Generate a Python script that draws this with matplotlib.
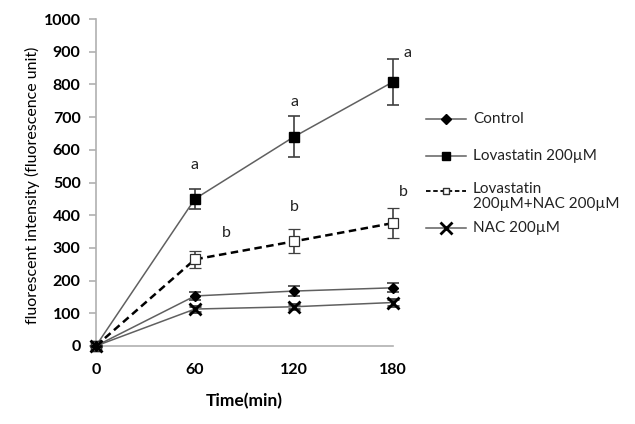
import matplotlib
matplotlib.use("Agg")
import matplotlib.pyplot as plt
from matplotlib.lines import Line2D

plt.rcParams["font.family"] = ["Lato", "DejaVu Sans"]

# data
time = [0, 60, 120, 180]

control = [0, 153, 168, 178]
control_err = [0, 12, 15, 14]

lova = [0, 450, 640, 808]
lova_err = [0, 30, 62, 70]

lova_nac = [0, 265, 320, 376]
lova_nac_err = [0, 26, 37, 45]

nac = [0, 113, 120, 133]
nac_err = [0, 10, 8, 10]

labels = ["Control", "Lovastatin 200\u00b5M",
          "Lovastatin\n200\u00b5M+NAC 200\u00b5M", "NAC 200\u00b5M"]

# significance letters
letters = ["a", "a", "a", "b", "b", "b"]
letter_x = [60, 120, 189, 79, 120, 186]
letter_y = [553, 746, 896, 346, 425, 471]

fig = plt.figure(figsize=(6.35, 4.24), dpi=100)
ax = fig.add_axes([0.151, 0.184, 0.468, 0.771])

gray = "#606060"

ax.errorbar(time, lova, yerr=lova_err, color=gray, lw=1.1, marker="s", ms=7,
            mfc="black", mec="black", ecolor="#404040", elinewidth=1.2,
            capsize=4, capthick=1.2, clip_on=False, zorder=3)
ax.errorbar(time, lova_nac, yerr=lova_nac_err, color="black", lw=1.8, ls=(0, (3, 1.8)),
            marker="s", ms=6.5, mfc="white", mec="#303030", mew=0.9,
            ecolor="#404040", elinewidth=1.2, capsize=4, capthick=1.2,
            clip_on=False, zorder=3)
ax.errorbar(time, control, yerr=control_err, color=gray, lw=1.1, marker="D", ms=5,
            mfc="black", mec="black", ecolor="#404040", elinewidth=1.2,
            capsize=4, capthick=1.2, clip_on=False, zorder=3)
ax.errorbar(time, nac, yerr=nac_err, color=gray, lw=1.1, marker="x", ms=8, mew=2,
            mfc="black", mec="black", ecolor="#404040", elinewidth=1.2,
            capsize=4, capthick=1.2, clip_on=False, zorder=3)

for t, x, y in zip(letters, letter_x, letter_y):
    ax.text(x, y, t, ha="center", va="center", fontsize=11.5, color="#222222")

ax.set_xlim(0, 180)
ax.set_ylim(0, 1000)
ax.set_xticks(time)
ax.set_yticks(range(0, 1001, 100))
for s in ["top", "right"]:
    ax.spines[s].set_visible(False)
for s in ["left", "bottom"]:
    ax.spines[s].set_color("#b0b0b0")
    ax.spines[s].set_linewidth(1.2)
ax.tick_params(axis="y", length=5, color="#b0b0b0", width=1.2, pad=6)
ax.tick_params(axis="x", length=0, pad=12)
for lab in ax.get_xticklabels() + ax.get_yticklabels():
    lab.set_fontweight("bold")
    lab.set_fontsize(11.5)

ax.set_xlabel("Time(min)", fontweight="bold", fontsize=12.5)
ax.xaxis.set_label_coords(0.5, -0.145)
ax.set_ylabel("fluorescent intensity (fluorescence unit)", fontsize=11.5,
              va="center")
ax.yaxis.set_label_coords(-0.212, 0.49)

# legend drawn by hand so the handles sit on the first text line
leg_y = [119, 156, 191, 228]
styles = [
    dict(color=gray, lw=1.1, marker="D", ms=5, mfc="black", mec="black"),
    dict(color=gray, lw=1.1, marker="s", ms=6, mfc="black", mec="black"),
    dict(color="black", lw=1.3, ls=(0, (2.5, 1.5)), marker="s", ms=5, mfc="white", mec="#303030"),
    dict(color=gray, lw=1.1, marker="x", ms=8, mew=2, mfc="black", mec="black"),
]
for y, lab, st in zip(leg_y, labels, styles):
    fy = 1 - y / 424
    fig.add_artist(Line2D([426 / 635, 446 / 635, 466 / 635], [fy, fy, fy],
                          markevery=[1], **st))
    if "\n" in lab:
        fig.text(473 / 635, fy + 9 / 424, lab, ha="left", va="top",
                 fontsize=11, color="#222222", linespacing=1.05)
    else:
        fig.text(473 / 635, fy, lab, ha="left", va="center",
                 fontsize=11, color="#222222")

fig.savefig("out.png", dpi=100)
